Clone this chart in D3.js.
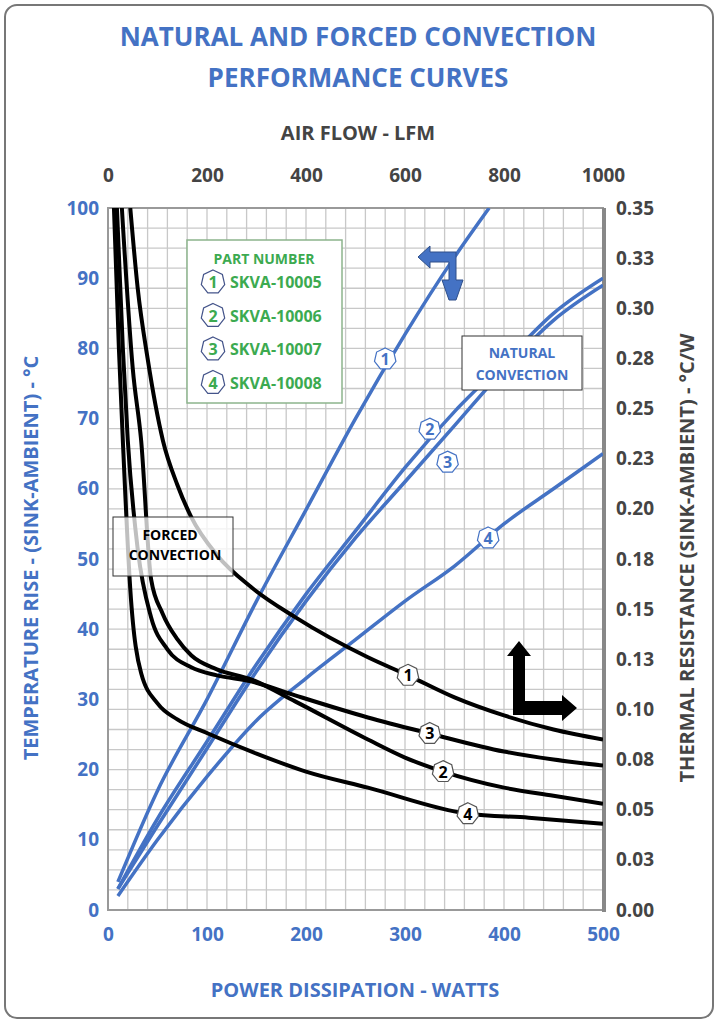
<!DOCTYPE html>
<html><head><meta charset="utf-8">
<script src="https://cdn.jsdelivr.net/npm/d3@7"></script>
<style>body{margin:0;background:#fff}text{font-family:"Open Sans",sans-serif;font-weight:700}</style>
</head><body><svg width="718" height="1024"></svg>
<script>
// natural convection: watts vs temp rise (°C)
const natWatts = [10, 50, 100, 150, 200, 250, 300, 350, 400, 450, 500];
const nat1Watts = [10, 50, 100, 150, 200, 250, 300, 350, 385];
const nat1 = [4, 17, 30, 44, 57, 70, 82, 93, 100];
const nat2 = [3, 13, 24, 35, 45, 54, 63, 71, 78, 85, 90];
const nat3 = [3, 12, 23, 34, 44, 53, 61, 69, 77, 84, 89];
const nat4 = [2, 10, 19, 27, 33, 38.5, 44, 49, 55, 60, 65];

// forced convection: LFM vs thermal resistance (°C/W)
const lfm1 = [45, 60, 80, 111, 140, 168, 220, 289, 378, 525, 606, 700, 800, 900, 1000];
const forced1 = [0.35, 0.31, 0.275, 0.234, 0.212, 0.196, 0.177, 0.161, 0.146, 0.126, 0.117, 0.106, 0.097, 0.09, 0.085];
const lfm2 = [28, 50, 67, 87, 110, 140, 168, 220, 289, 378, 525, 600, 677, 800, 900, 1000];
const forced2 = [0.35, 0.27, 0.234, 0.165, 0.148, 0.135, 0.127, 0.12, 0.115, 0.104, 0.085, 0.076, 0.069, 0.061, 0.057, 0.053];
const lfm3 = [18, 30, 40, 60, 87, 120, 168, 220, 289, 378, 525, 650, 800, 900, 1000];
const forced3 = [0.35, 0.28, 0.234, 0.18, 0.146, 0.13, 0.121, 0.117, 0.114, 0.107, 0.096, 0.088, 0.079, 0.075, 0.072];
const lfm4 = [12, 22, 30, 45, 67, 100, 140, 202, 300, 400, 525, 727, 850, 1000];
const forced4 = [0.35, 0.28, 0.234, 0.16, 0.118, 0.103, 0.095, 0.088, 0.078, 0.069, 0.061, 0.048, 0.046, 0.043];

const leftTicks = [0, 10, 20, 30, 40, 50, 60, 70, 80, 90, 100];
const rightTicks = [0, 0.025, 0.05, 0.075, 0.1, 0.125, 0.15, 0.175, 0.2, 0.225, 0.25, 0.275, 0.3, 0.325, 0.35];
const rightLabels = ["0.00","0.03","0.05","0.08","0.10","0.13","0.15","0.18","0.20","0.23","0.25","0.28","0.30","0.33","0.35"];
const parts = ["SKVA-10005", "SKVA-10006", "SKVA-10007", "SKVA-10008"];

const blue = "#4472C4", green = "#3CAA50";
const svg = d3.select("svg");
const L = 108, R = 603, T = 208, B = 910;
const xW = d3.scaleLinear().domain([0, 500]).range([L, R]);
const xF = d3.scaleLinear().domain([0, 1000]).range([L, R]);
const yT = d3.scaleLinear().domain([0, 100]).range([B, T]);
const yR = d3.scaleLinear().domain([0, 0.35]).range([B, T]);

svg.append("rect").attr("x", 5).attr("y", 5).attr("width", 708).attr("height", 1013)
  .attr("rx", 12).attr("fill", "#fff").attr("stroke", "#777").attr("stroke-width", 2);

// grid
const g = svg.append("g");
g.selectAll(".vg").data(d3.range(0, 501, 20)).enter().append("line")
  .attr("x1", d => xW(d)).attr("x2", d => xW(d)).attr("y1", T).attr("y2", B)
  .attr("stroke", "#c8c8c8").attr("stroke-width", 1.3);
g.selectAll(".hg").data(d3.range(0, 36)).enter().append("line")
  .attr("y1", d => yR(d / 100)).attr("y2", d => yR(d / 100)).attr("x1", L).attr("x2", R)
  .attr("stroke", "#c8c8c8").attr("stroke-width", 1.3);
svg.append("rect").attr("x", L).attr("y", T).attr("width", R - L).attr("height", B - T)
  .attr("fill", "none").attr("stroke", "#999").attr("stroke-width", 2);
svg.append("line").attr("x1", R + 1).attr("x2", R + 1).attr("y1", T).attr("y2", B + 2)
  .attr("stroke", "#888").attr("stroke-width", 4);

// axes
const ax = (sel, axis) => { sel.call(axis); sel.select(".domain").remove(); sel.selectAll("line").remove(); sel.selectAll("text").attr("font-size", 19); };
svg.append("g").attr("transform", `translate(${L - 4},0)`)
  .call(s => ax(s, d3.axisLeft(yT).tickValues(leftTicks).tickSize(0)))
  .selectAll("text").attr("fill", blue).attr("dx", "-2");
svg.append("g").attr("transform", `translate(${R + 10},0)`)
  .call(s => ax(s, d3.axisRight(yR).tickValues(rightTicks).tickFormat((d, i) => rightLabels[i]).tickSize(0)))
  .selectAll("text").attr("fill", "#444");
svg.append("g").attr("transform", `translate(0,${B + 28})`)
  .call(s => ax(s, d3.axisBottom(xW).tickValues([0, 100, 200, 300, 400, 500]).tickSize(0)))
  .selectAll("text").attr("fill", blue).attr("dy", "0");
svg.append("g").attr("transform", `translate(0,${T - 30})`)
  .call(s => ax(s, d3.axisTop(xF).tickValues([0, 200, 400, 600, 800, 1000]).tickFormat(d3.format("d")).tickSize(0)))
  .selectAll("text").attr("fill", "#444").attr("dy", "0.35em");
svg.selectAll(".tick text").attr("font-weight", 700);

// titles
const txt = (x, y, s, size, fill, rot) => svg.append("text").attr("x", x).attr("y", y)
  .attr("text-anchor", "middle").attr("font-size", size).attr("fill", fill).text(s)
  .attr("transform", rot ? `rotate(${rot},${x},${y})` : null);
txt(358, 46, "NATURAL AND FORCED CONVECTION", 26, blue);
txt(358, 87, "PERFORMANCE CURVES", 26, blue);
txt(358, 140, "AIR FLOW - LFM", 20, "#444");
txt(355, 997, "POWER DISSIPATION - WATTS", 20, blue);
txt(38, 558, "TEMPERATURE RISE - (SINK-AMBIENT) - °C", 20, blue, -90);
txt(694, 558, "THERMAL RESISTANCE (SINK-AMBIENT) - °C/W", 20, "#444", -90);

// curves
svg.append("clipPath").attr("id", "c").append("rect")
  .attr("x", L).attr("y", T).attr("width", R - L).attr("height", B - T);
const line = (xs, ys, sx, sy) => d3.line().curve(d3.curveMonotoneX)
  .x((d, i) => sx(xs[i])).y(d => sy(d))(ys);
const natural = [[nat1Watts, nat1], [natWatts, nat2], [natWatts, nat3], [natWatts, nat4]];
const forced = [[lfm1, forced1], [lfm2, forced2], [lfm3, forced3], [lfm4, forced4]];
const cg = svg.append("g").attr("clip-path", "url(#c)");
cg.selectAll(".nat").data(natural).enter().append("path")
  .attr("d", d => line(d[0], d[1], xW, yT)).attr("fill", "none").attr("stroke", blue).attr("stroke-width", 3.5);
cg.selectAll(".frc").data(forced).enter().append("path")
  .attr("d", d => line(d[0], d[1], xF, yR)).attr("fill", "none").attr("stroke", "#000").attr("stroke-width", 4);

// heptagon markers
const hept = (cx, cy, r) => d3.range(7).map(i => {
  const a = -Math.PI / 2 + i * 2 * Math.PI / 7;
  return [cx + r * Math.cos(a), cy + r * Math.sin(a)];
});
const marker = (cx, cy, n, stroke, fill) => {
  svg.append("polygon").attr("points", hept(cx, cy, 11).join(" "))
    .attr("fill", "#fff").attr("stroke", stroke).attr("stroke-width", 1.2);
  svg.append("text").attr("x", cx).attr("y", cy + 6).attr("text-anchor", "middle")
    .attr("font-size", 16).attr("font-weight", 400).attr("fill", fill).text(n);
};
marker(xW(280), yT(78.5), 1, blue, blue);
marker(xW(325), yT(68.5), 2, blue, blue);
marker(xW(343), yT(63.8), 3, blue, blue);
marker(xW(384), yT(53), 4, blue, blue);
marker(xF(606), yR(0.117), 1, "#555", "#000");
marker(xF(650), yR(0.088), 3, "#555", "#000");
marker(xF(677), yR(0.069), 2, "#555", "#000");
marker(xF(727), yR(0.048), 4, "#555", "#000");

// legend box
svg.append("rect").attr("x", 187).attr("y", 240).attr("width", 155).attr("height", 163)
  .attr("fill", "#fff").attr("stroke", "#8CB48C").attr("stroke-width", 1.5);
txt(264, 264, "PART NUMBER", 14, green);
parts.forEach((p, i) => {
  const cy = 282 + i * 33.5;
  svg.append("polygon").attr("points", hept(213, cy, 12).join(" "))
    .attr("fill", "#fff").attr("stroke", "#44548a").attr("stroke-width", 1.2);
  svg.append("text").attr("x", 213).attr("y", cy + 6).attr("text-anchor", "middle")
    .attr("font-size", 16).attr("font-weight", 400).attr("fill", green).text(i + 1);
  svg.append("text").attr("x", 230).attr("y", cy + 6).attr("font-size", 16).attr("fill", green).text(p);
});

// annotation boxes
svg.append("rect").attr("x", 462).attr("y", 336).attr("width", 120).attr("height", 54)
  .attr("fill", "#fff").attr("stroke", "#333");
txt(522, 358, "NATURAL", 14, blue); txt(522, 380, "CONVECTION", 14, blue);
svg.append("rect").attr("x", 113).attr("y", 517).attr("width", 120).attr("height", 59)
  .attr("fill", "#fff").attr("fill-opacity", 0.75).attr("stroke", "#333");
txt(170, 540, "FORCED", 14, "#000"); txt(175, 560, "CONVECTION", 14, "#000");

// arrows
svg.append("path").attr("d", "M418,257 L430,246 L430,252 L456,252 L456,280 L463,280 L456,300 L449,300 L442,280 L449,280 L449,262 L430,262 L430,268 Z")
  .attr("fill", blue).attr("stroke", "#2e4f8a").attr("stroke-width", 1);
svg.append("path").attr("d", "M519,641 L531,656 L525,656 L525,701 L562,701 L562,695 L577,708 L562,721 L562,715 L513,715 L513,656 L507,656 Z")
  .attr("fill", "#000");
</script></body></html>
